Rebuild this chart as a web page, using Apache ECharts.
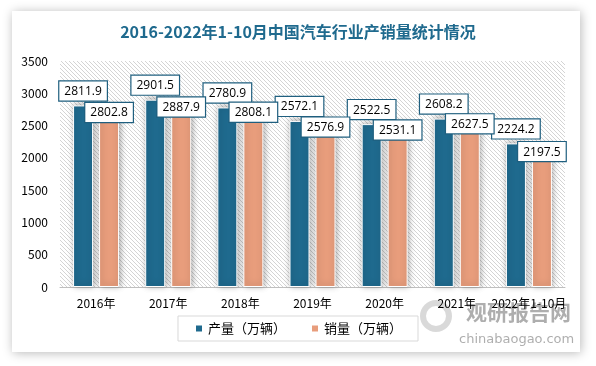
<!DOCTYPE html>
<html><head><meta charset="utf-8">
<script src="https://cdn.jsdelivr.net/npm/echarts@6/dist/echarts.min.js"></script>
<style>html,body{margin:0;padding:0;background:#fff}#c{width:596px;height:366px}</style>
</head><body><div id="c"></div>
<script>
const categories = ['2016年','2017年','2018年','2019年','2020年','2021年','2022年1-10月'];
const production = [2811.9, 2901.5, 2780.9, 2572.1, 2522.5, 2608.2, 2224.2];
const sales = [2802.8, 2887.9, 2808.1, 2576.9, 2531.1, 2627.5, 2197.5];
const seriesNames = ['产量（万辆）','销量（万辆）'];
const titleText = '2016-2022年1-10月中国汽车行业产销量统计情况';

const pc = document.createElement('canvas');
pc.width = 4; pc.height = 4;
const g = pc.getContext('2d');
g.fillStyle = '#ffffff'; g.fillRect(0,0,4,4);
g.strokeStyle = '#d4d4d4'; g.lineWidth = 1;
[-4, 0, 4].forEach(o => { g.beginPath(); g.moveTo(o-1,-1); g.lineTo(o+5,5); g.stroke(); });

const font = '"Microsoft YaHei","Noto Sans CJK SC","Noto Sans",sans-serif';
const chart = echarts.init(document.getElementById('c'), null, {renderer:'canvas'});
const lbl = {
  show: true, color: '#000', fontSize: 12, fontFamily: '"Open Sans","Noto Sans",sans-serif',
  backgroundColor: '#fff', borderColor: '#1f5f7f', borderWidth: 1.2,
  padding: [4, 5, 3, 5], formatter: p => p.value.toFixed(1)
};
chart.setOption({
  animation: false,
  backgroundColor: '#fff',
  graphic: [
    {type:'rect', z:-10, shape:{x:12,y:11,width:568,height:341},
     style:{fill:'#fff', shadowBlur:10, shadowColor:'rgba(0,0,0,0.28)', shadowOffsetX:1, shadowOffsetY:1}},
    {type:'text', z:-5, left:466, top:302, style:{text:'观研报告网', fill:'rgba(140,140,140,0.7)', font:'bold 21px "Noto Sans CJK SC"'}},
    {type:'text', z:-5, left:459, top:333, style:{text:'chinabaogao.com', fill:'rgba(140,140,140,0.7)', font:'13px "DejaVu Sans"'}},
    {type:'circle', z:-5, shape:{cx:436,cy:316,r:13}, style:{fill:'none', stroke:'rgba(170,170,170,0.45)', lineWidth:6}}
  ],
  title: {
    text: titleText, left: 'center', top: 19,
    textStyle: {color:'#1f6a8e', fontSize: 16, fontWeight: 'bold', fontFamily: '"Noto Sans CJK SC",serif'}
  },
  legend: {
    data: seriesNames, left: 'center', top: 316,
    borderColor: '#d9d9d9', borderWidth: 1, padding: [6, 16, 6, 16],
    itemWidth: 8, itemHeight: 8, itemGap: 24, icon: 'rect',
    textStyle: {color:'#000', fontSize: 13, fontFamily: font}
  },
  grid: {
    left: 60, right: 31, top: 61, bottom: 79, show: true, borderWidth: 0,
    backgroundColor: {image: pc, repeat: 'repeat'}
  },
  xAxis: {
    type: 'category', data: categories,
    axisLine: {lineStyle:{color:'#bfbfbf'}}, axisTick: {show:false},
    axisLabel: {color:'#000', fontSize: 12, margin: 10, fontFamily: font, interval: 0}
  },
  yAxis: {
    type: 'value', min: 0, max: 3500, interval: 500,
    axisLine: {show:false}, axisTick: {show:false}, splitLine: {show:false},
    axisLabel: {color:'#000', fontSize: 12, margin: 12, fontFamily: font, formatter: v => String(v)}
  },
  series: [
    {name: seriesNames[0], type: 'bar', data: production, barWidth: 20, barGap: '30%',
     itemStyle: {color:'#1f6a8e', borderColor:'#fff', borderWidth:1,
       shadowBlur: 6, shadowColor:'rgba(0,0,0,0.35)', shadowOffsetX: 1, shadowOffsetY: -1},
     label: Object.assign({}, lbl, {position: 'top', distance: 5})},
    {name: seriesNames[1], type: 'bar', data: sales, barWidth: 20,
     itemStyle: {color:'#e89d7c', borderColor:'#fff', borderWidth:1,
       shadowBlur: 6, shadowColor:'rgba(0,0,0,0.35)', shadowOffsetX: 1, shadowOffsetY: -1},
     label: Object.assign({}, lbl, {position: 'insideTop', distance: 0, offset: [0, -3]})}
  ]
});
</script></body></html>
